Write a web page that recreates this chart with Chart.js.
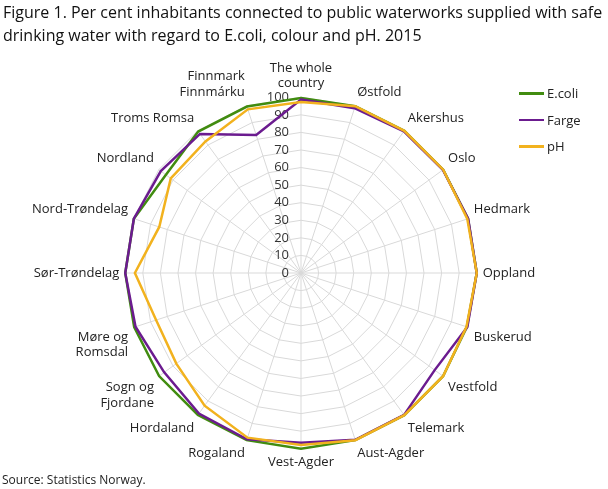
<!DOCTYPE html>
<html>
<head>
<meta charset="utf-8">
<script src="https://cdn.jsdelivr.net/npm/chart.js@4/dist/chart.umd.min.js"></script>
<style>
  body { margin: 0; width: 608px; height: 489px; background: #fff; font-family: "Open Sans", sans-serif; position: relative; overflow: hidden; }
  #title { position: absolute; left: 3px; top: 1px; font-size: 16px; line-height: 23px; color: #111; letter-spacing: 0px; }
  #source { position: absolute; left: 2px; top: 471px; font-size: 12px; color: #222; }
  #wrap { position: absolute; left: 0; top: 0; width: 608px; height: 489px; }
  #legend { position: absolute; left: 519px; top: 80px; font-size: 13px; color: #222; }
  .item { height: 26.5px; display: flex; align-items: center; }
  .swatch { width: 25px; height: 2.5px; margin-right: 3px; }
</style>
</head>
<body>
<div id="wrap"><canvas id="waterChart"></canvas></div>
<div id="title">Figure 1. Per cent inhabitants connected to public waterworks supplied with safe<br>drinking water with regard to E.coli, colour and pH. 2015</div>
<div id="legend"></div>
<div id="source">Source: Statistics Norway.</div>
<script>
// counties, clockwise from the top
var counties = [['The whole', 'country'], 'Østfold', 'Akershus', 'Oslo', 'Hedmark', 'Oppland', 'Buskerud',
    'Vestfold', 'Telemark', 'Aust-Agder', 'Vest-Agder', 'Rogaland', 'Hordaland', ['Sogn og', 'Fjordane'],
    ['Møre og', 'Romsdal'], 'Sør-Trøndelag', 'Nord-Trøndelag', 'Nordland', 'Troms Romsa', ['Finnmark', 'Finnmárku']];

var ecoliValues = [99.6, 99.8, 100, 100, 99.9, 100, 99.2, 99.9, 100, 100, 100, 100, 99.8, 99.8, 99.8, 100, 100, 95, 99.5, 99.6];
var fargeValues = [98.7, 98.6, 99.6, 99.8, 100, 100, 99.5, 94, 99.8, 99.8, 96.6, 99.5, 98.8, 96.2, 99, 100, 100, 98.6, 97.8, 82.5];
var phValues = [97.3, 99.8, 100, 100, 99.5, 100, 99, 99.9, 100, 100, 97.9, 98.5, 93.3, 87.7, 86.7, 94.5, 84.8, 91.6, 92.5, 97.9];

var seriesNames = ['E.coli', 'Farge', 'pH'];
var seriesColors = ['#418c10', '#6b1b8f', '#f2b21e'];
var tickLabels = [0, 10, 20, 30, 40, 50, 60, 70, 80, 90, 100];

// tick labels sit to the left of the vertical axis, not centred on it
var tickPlugin = {
    id: 'tickPlugin',
    beforeDatasetsDraw: function (chart) {
        var scale = chart.scales.r;
        var ctx = chart.ctx;
        ctx.save();
        ctx.font = '13px "Open Sans"';
        ctx.fillStyle = '#333';
        ctx.textAlign = 'right';
        ctx.textBaseline = 'middle';
        tickLabels.forEach(function (t) {
            var d = scale.getDistanceFromCenterForValue(t);
            ctx.fillText(String(t), scale.xCenter - 12, scale.yCenter - d);
        });
        ctx.restore();
    }
};

var legendBox = document.getElementById('legend');
seriesNames.forEach(function (name, i) {
    legendBox.innerHTML += '<div class="item"><span class="swatch" style="background:' + seriesColors[i] + '"></span>' + name + '</div>';
});

var allValues = [ecoliValues, fargeValues, phValues];
var datasets = seriesNames.map(function (name, i) {
    return {
        label: name,
        data: allValues[i],
        borderColor: seriesColors[i],
        backgroundColor: seriesColors[i],
        borderWidth: 2.5,
        pointRadius: 0,
        fill: false,
        order: 3 - i
    };
});

new Chart(document.getElementById('waterChart'), {
    type: 'radar',
    data: { labels: counties, datasets: datasets },
    plugins: [tickPlugin],
    options: {
        responsive: true,
        maintainAspectRatio: false,
        animation: false,
        layout: { padding: { left: 15, right: 54, top: 44, bottom: 2 } },
        plugins: { legend: { display: false }, tooltip: { enabled: false } },
        scales: {
            r: {
                min: 0,
                max: 100,
                ticks: { stepSize: 10, display: false },
                grid: { color: '#d9d9d9', lineWidth: 1 },
                angleLines: { color: '#d9d9d9', lineWidth: 1 },
                pointLabels: {
                    font: { family: '"Open Sans"', size: 13 },
                    color: '#222',
                    padding: 6
                }
            }
        }
    }
});
</script>
</body>
</html>
